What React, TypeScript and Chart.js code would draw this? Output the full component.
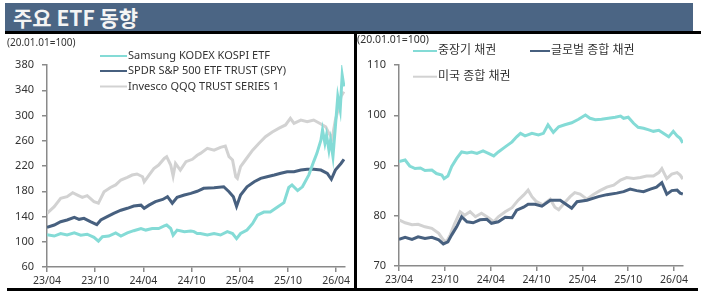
import React, { useEffect, useRef } from "react";
import { Chart, registerables } from "chart.js";

Chart.register(...registerables);

const FONT = "'Noto Sans', 'Noto Sans CJK KR', sans-serif";

const headerTitle = "주요 ETF 동향";
const baseNote = "(20.01.01=100)";
const xTickMonths = [0, 6, 12, 18, 24, 30, 36];
const xTickLabels = ["23/04", "23/10", "24/04", "24/10", "25/04", "25/10", "26/04"];

// ---- Left chart: ETFs (months since 2023/04) ----
const etfNames = ["Samsung KODEX KOSPI ETF", "SPDR S&P 500 ETF TRUST (SPY)", "Invesco QQQ TRUST SERIES 1"];

const kospiMonths = [0, 0.9, 1.7, 2.5, 3.4, 4.2, 5.0, 5.85, 6.4, 6.9, 7.7, 8.55, 9.2, 10.0, 10.8, 11.7, 12.3, 13.1, 13.9, 14.6, 14.9, 15.4, 15.7, 16.2, 17.1, 17.9, 18.3, 18.7, 19.1, 19.96, 20.8, 21.6, 22.45, 23.1, 23.6, 24.1, 24.9, 25.6, 26.2, 27.0, 27.8, 28.7, 29.5, 30.1, 30.5, 31.2, 31.8, 32.6, 33.2, 33.6, 34.1, 34.3, 34.6, 34.8, 35.1, 35.3, 35.6, 35.9, 36.2, 36.5, 36.75, 36.97];
const kospiValues = [111, 109, 113, 110.7, 114, 110.5, 112, 107, 101, 108, 109, 114, 109, 114, 117.5, 121, 118.5, 121, 121, 125, 126.5, 121, 110.5, 118.5, 116, 117, 116, 113, 113, 110.7, 113, 110.7, 116, 113, 105, 113, 118.6, 129, 142, 147, 147, 155, 162, 186, 190, 181, 187, 206, 227, 240, 261, 277, 256, 269, 245, 261, 235, 282, 330, 309, 364, 346];

const spyMonths = [0, 0.9, 1.7, 2.5, 3.4, 4.0, 4.6, 5.4, 6.2, 6.7, 7.5, 8.3, 9.2, 10.0, 10.8, 11.7, 12.1, 12.7, 13.5, 14.4, 15.0, 15.6, 16.2, 17.1, 17.9, 18.7, 19.5, 20.8, 22.0, 22.66, 23.2, 23.6, 24.1, 24.9, 25.8, 26.6, 27.4, 28.3, 29.1, 29.9, 30.75, 31.6, 32.4, 33.2, 34.1, 34.9, 35.4, 35.9, 36.6, 36.97];
const spyValues = [123, 126.5, 131.8, 134.5, 138.7, 135.5, 137, 131.8, 127, 134.5, 139.7, 145, 150, 153, 156.6, 158, 153, 158, 163.5, 167, 171.4, 161, 170.4, 174, 176.7, 180, 184.6, 185.6, 187.2, 179.3, 171.4, 156, 174, 187, 195, 200.5, 203, 205.7, 208.4, 211, 211, 213.6, 214.7, 214.7, 213.6, 208.4, 199, 213.6, 224, 230.6];

const qqqMonths = [0, 0.9, 1.7, 2.5, 3.2, 3.8, 4.4, 5.0, 5.85, 6.4, 7.1, 7.9, 8.55, 9.2, 10.0, 10.6, 11.2, 11.9, 12.1, 12.7, 13.3, 13.9, 14.6, 14.9, 15.4, 15.7, 16.0, 16.6, 17.3, 18.1, 18.7, 19.1, 19.96, 20.8, 21.6, 22.2, 22.66, 23.1, 23.5, 23.7, 24.1, 24.7, 25.6, 26.4, 27.2, 28.05, 28.9, 29.7, 30.3, 30.75, 31.6, 32.4, 33.2, 34.1, 34.7, 35.1, 35.5, 35.9, 36.35, 36.6, 36.97];
const qqqValues = [145, 155.5, 168.8, 171.4, 177.7, 174, 170.4, 173, 163.5, 161, 179, 186, 190, 197.8, 202, 205.7, 207.3, 203, 195, 205.7, 216, 221.5, 232, 234.7, 221.5, 204, 224, 213.6, 226.8, 230.6, 237, 240, 248, 245, 249.6, 251.6, 234.7, 229.5, 203, 200.5, 219, 229.5, 245, 256, 266.4, 274, 280, 285, 295.5, 287.6, 292.8, 290, 292.8, 286.5, 282, 271.8, 263.8, 292.8, 314, 330, 337.7];

// ---- Right chart: bonds ----
const bondNames = ["중장기 채권", "글로벌 종합 채권", "미국 종합 채권"];

const midBondMonths = [0, 0.8, 1.4, 2.1, 2.8, 3.4, 4.3, 4.9, 5.6, 5.9, 6.4, 6.9, 7.55, 8.2, 8.9, 9.5, 10.2, 11.0, 11.7, 12.4, 13.0, 13.9, 14.8, 15.4, 15.9, 16.5, 17.4, 18.25, 18.9, 19.5, 20.2, 20.9, 21.7, 22.6, 23.5, 24.4, 25.0, 25.7, 26.5, 27.4, 28.3, 29.0, 29.4, 30.0, 30.7, 31.3, 32.0, 32.7, 33.3, 34.0, 34.6, 35.3, 35.9, 36.4, 36.8, 37.15];
const midBondValues = [90.8, 91.1, 89.9, 89.4, 89.5, 89.0, 89.1, 88.4, 88.1, 87.4, 87.9, 89.8, 91.4, 92.7, 92.5, 92.7, 92.4, 92.9, 92.4, 91.9, 92.7, 93.7, 94.7, 95.7, 96.4, 95.9, 96.4, 96.1, 96.4, 98.1, 96.6, 97.7, 98.1, 98.5, 99.2, 100.05, 99.4, 99.1, 99.2, 99.4, 99.6, 99.85, 99.4, 99.6, 98.4, 97.6, 97.4, 97.1, 96.8, 97.0, 96.4, 95.7, 96.8, 95.9, 95.4, 94.5];

const globalBondMonths = [0, 0.8, 1.7, 2.5, 3.4, 4.3, 5.2, 5.8, 6.4, 6.9, 7.55, 8.2, 8.9, 9.7, 10.6, 11.5, 12.1, 13.0, 13.9, 14.8, 15.4, 16.3, 16.9, 17.8, 18.7, 19.8, 21.1, 22.6, 23.3, 24.6, 26.1, 27.2, 28.5, 29.4, 30.25, 31.1, 32.0, 32.9, 33.7, 34.4, 35.05, 35.7, 36.4, 36.8, 37.15];
const globalBondValues = [75.3, 75.7, 75.3, 75.8, 75.5, 75.7, 75.2, 74.4, 74.8, 76.2, 77.8, 79.8, 78.8, 78.6, 79.2, 79.3, 78.5, 78.8, 79.7, 79.6, 81.1, 81.7, 82.3, 82.3, 81.9, 83.1, 83.1, 81.5, 82.8, 83.1, 83.8, 84.2, 84.5, 84.8, 85.3, 85.0, 84.8, 85.3, 85.7, 86.6, 84.3, 85.0, 85.1, 84.5, 84.3];

const usBondMonths = [0, 0.8, 1.7, 2.5, 3.4, 4.3, 5.2, 5.8, 6.2, 6.7, 7.3, 8.0, 8.6, 9.3, 10.0, 10.8, 11.7, 12.4, 13.0, 13.9, 14.8, 15.6, 16.3, 16.9, 17.4, 18.0, 18.9, 19.1, 19.8, 20.4, 20.9, 21.5, 22.4, 23.0, 23.7, 24.6, 25.4, 26.3, 27.2, 28.1, 29.0, 29.8, 30.7, 31.6, 32.4, 33.3, 34.0, 34.4, 35.05, 35.7, 36.4, 36.8, 37.15];
const usBondValues = [79.2, 78.6, 78.2, 78.3, 77.8, 77.5, 76.5, 75.2, 74.8, 76.2, 78.5, 80.8, 80.1, 80.8, 79.8, 80.5, 79.6, 78.8, 79.8, 80.8, 81.6, 83.1, 84.1, 85.1, 83.8, 82.8, 82.1, 82.5, 83.3, 81.7, 81.2, 82.3, 83.8, 84.6, 84.3, 83.3, 84.2, 85.0, 85.7, 86.1, 87.1, 87.6, 87.4, 87.6, 87.9, 87.9, 88.6, 89.4, 87.4, 88.3, 88.6, 88.1, 87.3];

const COLORS = ["#84dbd6", "#47607f", "#d2d2d2"];

const toPoints = (xs: number[], ys: number[]) => xs.map((x, i) => ({ x, y: ys[i] }));

const overlayPlugin = {
  id: "overlay",
  afterDraw(chart: any, _args: any, opts: any) {
    const ctx = chart.ctx;
    ctx.save();
    ctx.textBaseline = "middle";
    ctx.textAlign = "left";
    ctx.fillStyle = "#333333";
    ctx.font = `${opts.noteSize}px ${FONT}`;
    ctx.fillText(opts.note, opts.noteX, opts.noteY);
    ctx.font = `${opts.legendSize}px ${FONT}`;
    chart.data.datasets.forEach((ds: any, i: number) => {
      const p = opts.legendPos[i];
      ctx.strokeStyle = ds.borderColor;
      ctx.lineWidth = 2;
      ctx.beginPath();
      ctx.moveTo(p.x, p.y);
      ctx.lineTo(p.x + p.w, p.y);
      ctx.stroke();
      ctx.fillStyle = "#333333";
      ctx.fillText(ds.label, p.x + p.w + 1, p.y);
    });
    ctx.restore();
  },
};

type PanelProps = {
  names: string[];
  series: { x: number[]; y: number[] }[];
  yMin: number;
  yMax: number;
  yStep: number;
  xMax: number;
  yAxisWidth: number;
  xAxisHeight: number;
  padRight: number;
  width: number;
  height: number;
  yFont: number;
  overlay: any;
};

function Panel(p: PanelProps) {
  const ref = useRef<HTMLCanvasElement | null>(null);
  useEffect(() => {
    if (!ref.current) return;
    const chart = new Chart(ref.current, {
      type: "line",
      data: {
        datasets: p.series.map((s, i) => ({
          label: p.names[i],
          data: toPoints(s.x, s.y),
          borderColor: COLORS[i],
          backgroundColor: COLORS[i],
          borderWidth: 3,
          pointRadius: 0,
          tension: 0,
          fill: false,
        })),
      },
      options: {
        animation: false,
        responsive: false,
        devicePixelRatio: 1,
        layout: { padding: { top: 31, right: p.padRight, left: 0, bottom: 0 } },
        plugins: {
          legend: { display: false },
          tooltip: { enabled: false },
          overlay: p.overlay,
        } as any,
        scales: {
          x: {
            type: "linear",
            min: 0,
            max: p.xMax,
            afterBuildTicks: (s: any) => {
              s.ticks = xTickMonths.map((v) => ({ value: v }));
            },
            afterFit: (s: any) => {
              s.height = p.xAxisHeight;
            },
            ticks: {
              autoSkip: false,
              maxRotation: 0,
              padding: 3,
              color: "#333333",
              font: { family: FONT, size: 10.5 },
              callback: (_v: any, i: number) => xTickLabels[i],
            },
            grid: { drawOnChartArea: false, drawTicks: true, tickLength: 5, color: "#8a8a8a", lineWidth: 1.5 },
            border: { display: true, color: "#8a8a8a", width: 1.5 },
          },
          y: {
            min: p.yMin,
            max: p.yMax,
            afterFit: (s: any) => {
              s.width = p.yAxisWidth;
            },
            ticks: {
              stepSize: p.yStep,
              padding: 8,
              color: "#333333",
              font: { family: FONT, size: p.yFont },
            },
            grid: { drawOnChartArea: false, drawTicks: true, tickLength: 5, color: "#8a8a8a", lineWidth: 1.5 },
            border: { display: true, color: "#8a8a8a", width: 1.5 },
          },
        },
      } as any,
      plugins: [overlayPlugin as any],
    });
    return () => chart.destroy();
  }, []);
  return <canvas ref={ref} width={p.width} height={p.height} style={{ display: "block", width: p.width, height: p.height }} />;
}

export default function App() {
  useEffect(() => {
    document.body.style.margin = "0";
  }, []);
  return (
    <div style={{ position: "relative", width: 701, height: 293, background: "#ffffff", overflow: "hidden" }}>
      <div
        style={{
          position: "absolute",
          left: 5,
          top: 3,
          width: 688,
          height: 28,
          background: "#4b6584",
          color: "#f4f4f4",
          fontFamily: "'Noto Sans CJK KR', sans-serif",
          fontWeight: 700,
          fontSize: 21,
          lineHeight: "28px",
          paddingLeft: 8,
          boxSizing: "border-box",
        }}
      >
        {headerTitle}
      </div>
      <div style={{ position: "absolute", left: 5, top: 31, width: 696, height: 3, background: "#000" }} />
      <div style={{ position: "absolute", left: 0, top: 34 }}>
        <Panel
          names={etfNames}
          series={[
            { x: kospiMonths, y: kospiValues },
            { x: spyMonths, y: spyValues },
            { x: qqqMonths, y: qqqValues },
          ]}
          yMin={60}
          yMax={380}
          yStep={40}
          xMax={37.1}
          yAxisWidth={47}
          xAxisHeight={21}
          padRight={9}
          width={354}
          height={254}
          yFont={11}
          overlay={{
            note: baseNote,
            noteX: 7,
            noteY: 9,
            noteSize: 10,
            legendSize: 11,
            legendPos: [
              { x: 100, y: 22, w: 27 },
              { x: 100, y: 37, w: 27 },
              { x: 100, y: 52.5, w: 27 },
            ],
          }}
        />
      </div>
      <div style={{ position: "absolute", left: 357, top: 34 }}>
        <Panel
          names={bondNames}
          series={[
            { x: midBondMonths, y: midBondValues },
            { x: globalBondMonths, y: globalBondValues },
            { x: usBondMonths, y: usBondValues },
          ]}
          yMin={70}
          yMax={110}
          yStep={10}
          xMax={37.17}
          yAxisWidth={42}
          xAxisHeight={22}
          padRight={18}
          width={344}
          height={254}
          yFont={11}
          overlay={{
            note: baseNote,
            noteX: 0,
            noteY: 6,
            noteSize: 10.5,
            legendSize: 12,
            legendPos: [
              { x: 56, y: 17, w: 24 },
              { x: 173, y: 17, w: 20 },
              { x: 56, y: 42.7, w: 24 },
            ],
          }}
        />
      </div>
      <div style={{ position: "absolute", left: 354, top: 34, width: 3, height: 257, background: "#000" }} />
      <div style={{ position: "absolute", left: 7, top: 288, width: 691, height: 3, background: "#000" }} />
    </div>
  );
}
